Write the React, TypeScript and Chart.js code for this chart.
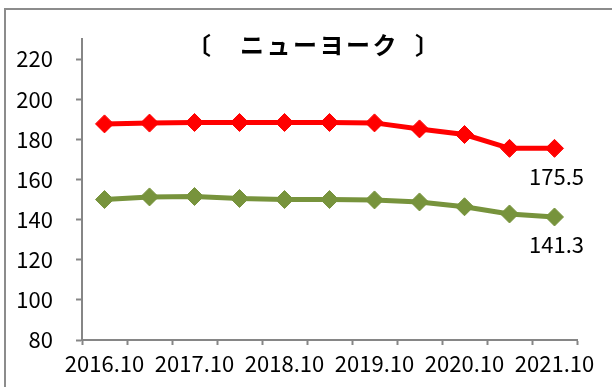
import { useEffect, useRef } from "react";
import { Chart, registerables } from "chart.js";

Chart.register(...registerables);

// Half-yearly survey points (every other one is labelled on the axis)
const categories = [
  "2016.10", "2017.4", "2017.10", "2018.4", "2018.10", "2019.4",
  "2019.10", "2020.4", "2020.10", "2021.4", "2021.10",
];
const redSeries = [187.7, 188.1, 188.4, 188.4, 188.4, 188.4, 188.2, 185.2, 182.4, 175.5, 175.5];
const greenSeries = [150.0, 151.3, 151.5, 150.5, 150.0, 150.0, 149.8, 148.8, 146.4, 142.8, 141.3];
const yTicks = [80, 100, 120, 140, 160, 180, 200, 220];
const titleText = "〔　ニューヨーク  〕";

const RED = "#FF0000";
const GREEN = "#77933C";
const AXIS = "#868686";
const TICK_FAMILY = "'Noto Sans CJK JP', sans-serif";
const TICK_SIZE = 22;

const titlePlugin = {
  id: "cityTitle",
  afterDraw(chart: any) {
    const ctx = chart.ctx as CanvasRenderingContext2D;
    ctx.save();
    ctx.font = "bold 24px 'Noto Sans CJK JP', sans-serif";
    (ctx as any).letterSpacing = "2.5px";
    ctx.fillStyle = "#000";
    ctx.textAlign = "left";
    ctx.textBaseline = "middle";
    ctx.fillText(titleText, 187, 45);
    ctx.restore();
  },
};

// Value label under the last point of each line
const lastValuePlugin = {
  id: "lastValue",
  afterDatasetsDraw(chart: any) {
    const ctx = chart.ctx as CanvasRenderingContext2D;
    ctx.save();
    ctx.font = `${TICK_SIZE}px ${TICK_FAMILY}`;
    ctx.fillStyle = "#000";
    ctx.textAlign = "center";
    ctx.textBaseline = "middle";
    chart.data.datasets.forEach((ds: any, i: number) => {
      const meta = chart.getDatasetMeta(i);
      const n = ds.data.length - 1;
      const pt = meta.data[n];
      if (!pt) return;
      ctx.fillText(Number(ds.data[n]).toFixed(1), pt.x + 2, pt.y + 28);
    });
    ctx.restore();
  },
};

export default function App() {
  const canvasRef = useRef<HTMLCanvasElement | null>(null);

  useEffect(() => {
    const canvas = canvasRef.current;
    if (!canvas) return;
    const chart = new Chart(canvas, {
      type: "line",
      data: {
        labels: categories,
        datasets: [
          {
            data: redSeries,
            borderColor: RED,
            backgroundColor: RED,
            borderWidth: 5,
            pointStyle: "rectRot",
            pointRadius: 9,
            pointBorderWidth: 1,
            pointBackgroundColor: RED,
            pointBorderColor: RED,
            tension: 0,
          },
          {
            data: greenSeries,
            borderColor: GREEN,
            backgroundColor: GREEN,
            borderWidth: 5,
            pointStyle: "rectRot",
            pointRadius: 9,
            pointBorderWidth: 1,
            pointBackgroundColor: GREEN,
            pointBorderColor: GREEN,
            tension: 0,
          },
        ],
      },
      options: {
        responsive: false,
        animation: false,
        devicePixelRatio: 1,
        layout: { padding: { left: 0, right: 35, top: 39, bottom: 0 } },
        plugins: {
          legend: { display: false },
          title: { display: false },
          tooltip: { enabled: false },
        },
        scales: {
          x: {
            offset: true,
            grid: {
              offset: true,
              drawOnChartArea: false,
              drawTicks: true,
              tickLength: 5,
              tickColor: AXIS,
              tickWidth: 2,
            },
            border: { display: true, color: AXIS, width: 2 },
            ticks: {
              autoSkip: false,
              maxRotation: 0,
              minRotation: 0,
              padding: 5,
              color: "#000",
              font: { family: TICK_FAMILY, size: TICK_SIZE },
              callback: (_v: any, i: number) => (i % 2 === 0 ? categories[i] : ""),
            },
            afterFit: (scale: any) => {
              scale.height = 47;
            },
          },
          y: {
            min: 80,
            max: 230,
            grid: {
              drawOnChartArea: false,
              drawTicks: true,
              tickLength: 6,
              tickColor: AXIS,
              tickWidth: 2,
            },
            border: { display: true, color: AXIS, width: 2 },
            ticks: {
              padding: 23,
              color: "#000",
              font: { family: TICK_FAMILY, size: TICK_SIZE },
            },
            afterBuildTicks: (scale: any) => {
              scale.ticks = yTicks.map((v) => ({ value: v }));
            },
            afterFit: (scale: any) => {
              scale.width = 82;
            },
          },
        },
      },
      plugins: [titlePlugin, lastValuePlugin],
    });
    return () => chart.destroy();
  }, []);

  return (
    <div
      style={{
        position: "fixed",
        left: 0,
        top: 0,
        width: 612,
        height: 387,
        background: "#fff",
        overflow: "hidden",
      }}
    >
      <div
        style={{
          position: "absolute",
          left: 4,
          top: 8,
          width: 800,
          height: 600,
          border: "2px solid #8c8c8c",
        }}
      />
      <canvas
        ref={canvasRef}
        width={612}
        height={387}
        style={{ position: "absolute", left: 0, top: 0, width: 612, height: 387 }}
      />
    </div>
  );
}
